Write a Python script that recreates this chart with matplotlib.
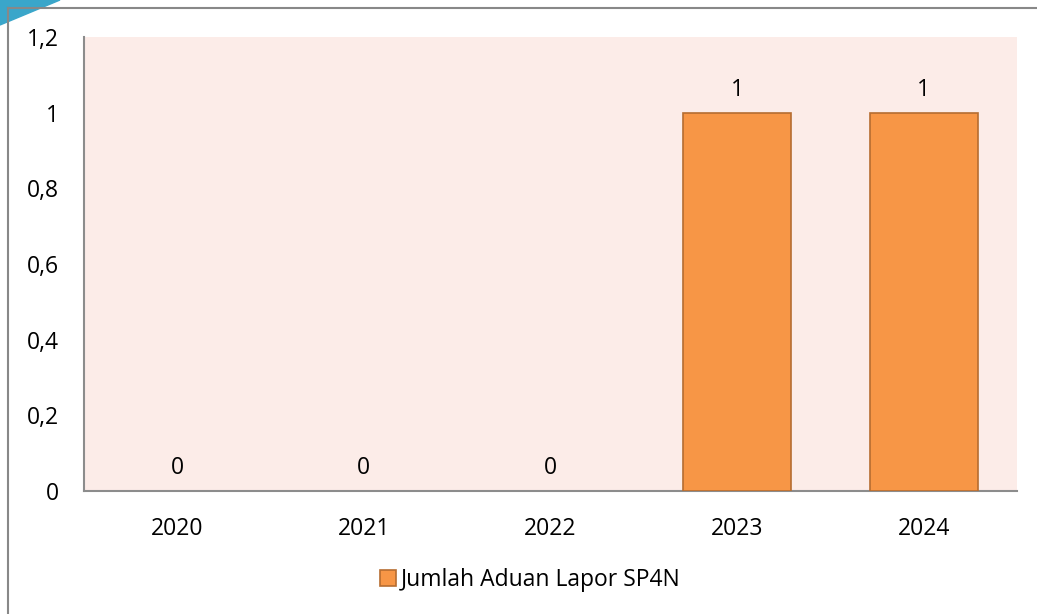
import matplotlib.pyplot as plt
from matplotlib.lines import Line2D
from matplotlib.patches import Polygon
import numpy as np

years = ["2020", "2021", "2022", "2023", "2024"]
aduan = [0, 0, 0, 1, 1]
series_name = "Jumlah Aduan Lapor SP4N"
y_ticks = [0, 0.2, 0.4, 0.6, 0.8, 1.0, 1.2]

plt.rcParams["font.family"] = ["Open Sans", "DejaVu Sans"]
fs = 16.5

W, H = 1037, 614
fig = plt.figure(figsize=(W / 100, H / 100), dpi=100)
ax = fig.add_axes([84 / W, 1 - 491 / H, (1017 - 84) / W, (491 - 37) / H])

x = np.arange(len(years))
# zero bars have no visible outline in the original
edge_w = [1.2 if v else 0 for v in aduan]
bars = ax.bar(x, aduan, 0.58, color="#F79646", edgecolor="#B66D31",
              linewidth=edge_w, label=series_name, zorder=3)
ax.bar_label(bars, labels=[str(v) for v in aduan], padding=8, fontsize=fs)

ax.set_facecolor("#FCECE8")
ax.set_xlim(-0.5, len(years) - 0.5)
ax.set_ylim(0, 1.2)
ax.set_xticks(x)
ax.set_xticklabels(years)
ax.set_yticks(y_ticks)
ax.set_yticklabels([f"{v:g}".replace(".", ",") for v in y_ticks])
ax.tick_params(axis="both", length=0, labelsize=fs)
ax.tick_params(axis="y", pad=18)
ax.tick_params(axis="x", pad=19)
for side in ["top", "right"]:
    ax.spines[side].set_visible(False)
for side in ["left", "bottom"]:
    ax.spines[side].set_color("#8C8C8C")
    ax.spines[side].set_linewidth(1.5)

leg = fig.legend(handles=[bars], labels=[series_name], loc="center",
                 bbox_to_anchor=(530 / W, 1 - 580 / H), frameon=False,
                 fontsize=fs, handlelength=0.7, handleheight=0.7, handletextpad=0.2)
for p in leg.get_patches():
    p.set_linewidth(1.2)

# outer frame and corner decoration
fig.add_artist(Line2D([8 / W, 8 / W], [0, 1 - 8 / H], color="#888888", lw=1.5))
fig.add_artist(Line2D([8 / W, 1], [1 - 8 / H, 1 - 8 / H], color="#888888", lw=1.5))
fig.add_artist(Polygon([[0, 1], [60 / W, 1], [0, 1 - 25 / H]], closed=True,
                       transform=fig.transFigure, color="#3AA6CA", zorder=0))

plt.savefig("out.png", dpi=100)
